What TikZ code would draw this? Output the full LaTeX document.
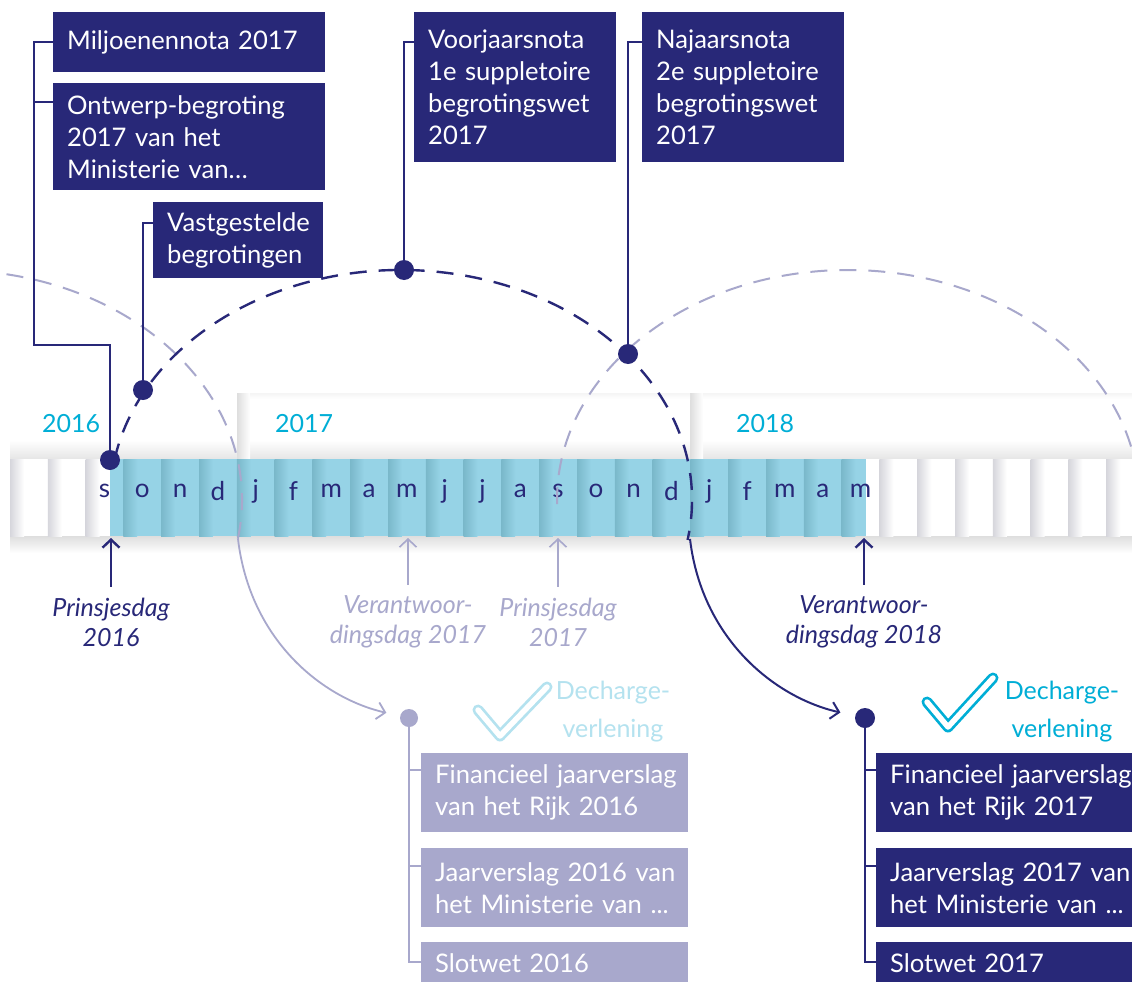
\documentclass[tikz,border=0pt]{standalone}
\usepackage{fontspec}
\setmainfont{Lato}
\usetikzlibrary{arrows.meta}
\definecolor{navy}{RGB}{40,40,120}
\definecolor{lav}{RGB}{168,168,204}
\definecolor{cyanx}{RGB}{0,174,214}
\definecolor{lcyan}{RGB}{180,226,239}
\definecolor{stripblue}{RGB}{150,211,230}
\definecolor{stripdark}{RGB}{122,184,202}
\definecolor{cellgrey}{RGB}{214,214,220}
\begin{document}
\begin{tikzpicture}[x=1pt,y=-1pt,
  box/.style={fill=navy,text=white,anchor=north west,align=left,inner xsep=14pt,inner ysep=0pt,font=\fontsize{25.6}{32}\selectfont},
  lbox/.style={box,fill=lav},
  dotn/.style={circle,fill=navy,inner sep=0pt,minimum size=20pt},
  dotl/.style={circle,fill=lav,inner sep=0pt,minimum size=18pt},
  navyconn/.style={draw=navy,line width=2pt},
  lavconn/.style={draw=lav,line width=2pt},
  navydash/.style={draw=navy,line width=2.4pt,dash pattern=on 17pt off 12pt},
  lavdash/.style={draw=lav,line width=2pt,dash pattern=on 17pt off 12pt},
  barb/.style={-{Straight Barb[length=8pt,width=17pt]}},
  month/.style={text=navy,font=\fontsize{26}{30}\selectfont,inner sep=0pt},
  year/.style={text=cyanx,font=\fontsize{25}{30}\selectfont,inner sep=0pt},
  lbl/.style={align=center,font=\itshape\fontsize{25}{30}\selectfont,inner sep=0pt},
  dech/.style={align=center,font=\fontsize{25}{38}\selectfont,inner sep=0pt}
]
\useasboundingbox (0,0) rectangle (1132,982);
\clip (0,0) rectangle (1132,982);
\fill[white] (0,0) rectangle (1132,982);

% header tabs and shadows
\shade[top color=white,bottom color=gray!20] (10,440) rectangle (1132,459);
\shade[top color=gray!26,bottom color=white] (10,536) rectangle (1132,553);
\shade[left color=gray!26,right color=white] (237,393) rectangle (250,459);
\shade[left color=gray!26,right color=white] (690,393) rectangle (703,459);
\shade[top color=gray!8,bottom color=white] (250,393) rectangle (690,399);
\shade[top color=gray!8,bottom color=white] (703,393) rectangle (1132,399);

% strip cells
\foreach \i in {0,...,30} {
  \pgfmathsetmacro\xa{10+37.8*\i}
  \fill[white] (\xa,459) rectangle ++(37.8,77);
  \shade[left color=cellgrey,right color=white] (\xa,459) rectangle ++(14,77);
}
\node[month] (m2) at (104.5,491) {s};
\fill[stripblue] (110,459) rectangle (866,536);
\foreach \i in {3,...,22} {
  \pgfmathsetmacro\xa{10+37.8*\i}
  \shade[left color=stripdark,right color=stripblue] (\xa,459) rectangle ++(14,77);
}
\fill[white] (866,459) rectangle (879.4,536);
\foreach \i/\l in {3/o,4/n,5/d,6/j,7/f,8/m,9/a,10/m,11/j,12/j,13/a,14/s,15/o,16/n,17/d,18/j,19/f,20/m,21/a,22/m} {
  \pgfmathsetmacro\xc{10+37.8*(\i+0.5)}
  \node[month] (m\i) at (\xc,491) {\l};
}

% years
\node[year] (y16) at (71,424) {2016};
\node[year] (y17) at (304,424) {2017};
\node[year] (y18) at (765,424) {2018};

% arcs
\coordinate (e0) at (-49,500);
\coordinate (e1) at (401,500);
\coordinate (e2) at (848,500);
\draw[lavdash] (e0) ++(79:291pt and 230pt) arc[start angle=79,end angle=-10,x radius=291pt,y radius=230pt];
\draw[lavdash] (e2) ++(181:291pt and 230pt) arc[start angle=181,end angle=-6,x radius=291pt,y radius=230pt];
\draw[navydash] (e1) ++(170:291pt and 230pt) arc[start angle=170,end angle=-10,x radius=291pt,y radius=230pt];

% dots
\node[dotn] (d1) at (110,460) {};
\node[dotn] (d2) at (143,390) {};
\node[dotn] (d3) at (404,270) {};
\node[dotn] (d4) at (628,354) {};
\node[dotn] (nd) at (865,718) {};
\node[dotl] (ld) at (409,718) {};

% solid curves to result dots
\coordinate (l0) at (238,539);
\coordinate (n0) at (690,539);
\draw[lav,line width=1.8pt,barb,shorten >=14pt] (l0) .. controls (250,640) and (322,698) .. (ld);
\draw[navy,line width=2pt,barb,shorten >=15pt] (n0) .. controls (702,640) and (776,698) .. (nd);

% top boxes
\node[box,minimum width=272pt,text width=244pt,minimum height=60pt] (milj) at (53,12) {Miljoenennota 2017};
\node[box,minimum width=272pt,text width=244pt,minimum height=107pt] (ontw) at (53,83) {\mbox{Ontwerp-begroting}\\2017 van het\\Ministerie van…};
\node[box,minimum width=170pt,text width=142pt,minimum height=76pt] (vast) at (153,202) {\mbox{Vastgestelde}\\\mbox{begrotingen}};
\node[box,minimum width=202pt,text width=174pt,minimum height=150pt] (voor) at (414,12) {\mbox{Voorjaarsnota}\\\mbox{1e suppletoire}\\\mbox{begrotingswet}\\2017};
\node[box,minimum width=202pt,text width=174pt,minimum height=150pt] (naj) at (642,12) {\mbox{Najaarsnota}\\\mbox{2e suppletoire}\\\mbox{begrotingswet}\\2017};

\draw[navyconn] (milj.west) -- ++(-19,0) |- (110,345) -- (d1);
\draw[navyconn] ([yshift=-19pt]ontw.north west) -- ++(-19,0);
\draw[navyconn] ([yshift=-21pt]vast.north west) -- ++(-10,0) -- (d2);
\draw[navyconn] ([yshift=-30pt]voor.north west) -- ++(-10,0) -- (d3);
\draw[navyconn] ([yshift=-30pt]naj.north west) -- ++(-14,0) -- (d4);

% bottom labels with arrows
\coordinate (sb) at (0,538);
\node[lbl,text=navy] (p16) at (111,622) {Prinsjesdag\\2016};
\node[lbl,text=lav] (v17) at (408,622) {Verantwoor-\\dingsdag 2017};
\node[lbl,text=lav] (p17) at (558,622) {Prinsjesdag\\2017};
\node[lbl,text=navy] (v18) at (864,622) {Verantwoor-\\dingsdag 2018};
\draw[navy,line width=2.4pt,barb] ([yshift=11pt]p16.north) -- (p16.north |- sb);
\draw[lav,line width=1.6pt,barb] ([yshift=11pt]v17.north) -- (v17.north |- sb);
\draw[lav,line width=1.6pt,barb] ([yshift=11pt]p17.north) -- (p17.north |- sb);
\draw[navy,line width=2.4pt,barb] ([yshift=11pt]v18.north) -- (v18.north |- sb);

% decharge checks
\draw[lcyan,line width=11pt,line join=round,line cap=round] (478,710) -- (500,736) -- (547,687);
\draw[white,line width=5.5pt,line join=round,line cap=round] (478,710) -- (500,736) -- (547,687);
\draw[cyanx,line width=11pt,line join=round,line cap=round] (927,702) -- (948,727) -- (993,678);
\draw[white,line width=5.5pt,line join=round,line cap=round] (927,702) -- (948,727) -- (993,678);
\node[dech,text=lcyan] (dc1) at (613,712) {Decharge-\\verlening};
\node[dech,text=cyanx] (dc2) at (1062,712) {Decharge-\\verlening};

% bottom boxes
\node[lbox,minimum width=267pt,text width=239pt,minimum height=79pt] (lb1) at (421,753) {\mbox{Financieel jaarverslag}\\\mbox{van het Rijk 2016}};
\node[lbox,minimum width=267pt,text width=239pt,minimum height=79pt] (lb2) at (421,848) {\mbox{Jaarverslag 2016 van}\\\mbox{het Ministerie van ...}};
\node[lbox,minimum width=267pt,text width=239pt,minimum height=42pt] (lb3) at (421,942) {Slotwet 2016};
\node[box,minimum width=270pt,text width=242pt,minimum height=79pt] (nb1) at (876,753) {\mbox{Financieel jaarverslag}\\\mbox{van het Rijk 2017}};
\node[box,minimum width=270pt,text width=242pt,minimum height=79pt] (nb2) at (876,848) {\mbox{Jaarverslag 2017 van}\\\mbox{het Ministerie van ...}};
\node[box,minimum width=270pt,text width=242pt,minimum height=42pt] (nb3) at (876,942) {Slotwet 2017};

\draw[lavconn] (ld) |- ([yshift=-20pt]lb3.north west);
\draw[lavconn] ([yshift=-17pt]lb1.north west) -- ++(-12,0);
\draw[lavconn] ([yshift=-18pt]lb2.north west) -- ++(-12,0);
\draw[navyconn] (nd) |- ([yshift=-20pt]nb3.north west);
\draw[navyconn] ([yshift=-17pt]nb1.north west) -- ++(-11,0);
\draw[navyconn] ([yshift=-18pt]nb2.north west) -- ++(-11,0);
\end{tikzpicture}
\end{document}
